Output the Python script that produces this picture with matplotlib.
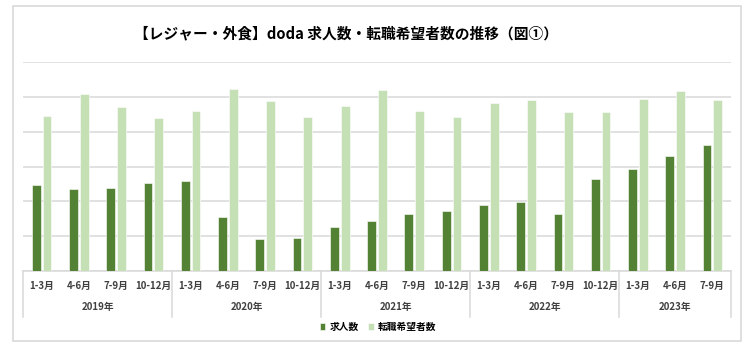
import matplotlib
matplotlib.use('Agg')
import matplotlib.pyplot as plt
import matplotlib.transforms as mtransforms
from matplotlib.patches import Rectangle
import numpy as np

plt.rcParams['font.family'] = ['Noto Sans CJK JP', 'DejaVu Sans']

# data (in gridline units)
years = ['2019年', '2020年', '2021年', '2022年', '2023年']
quarters_per_year = [4, 4, 4, 4, 3]
quarter_labels = ['1-3月', '4-6月', '7-9月', '10-12月']
job_offers = [2.46, 2.36, 2.39, 2.52,
              2.59, 1.56, 0.91, 0.94,
              1.26, 1.44, 1.63, 1.71,
              1.89, 1.97, 1.63, 2.65,
              2.92, 3.30, 3.61]
job_seekers = [4.45, 5.08, 4.71, 4.38,
               4.58, 5.23, 4.89, 4.42,
               4.73, 5.19, 4.59, 4.41,
               4.82, 4.91, 4.57, 4.56,
               4.93, 5.18, 4.91]
series_names = ['求人数', '転職希望者数']

dark = '#548235'
light = '#C5E0B4'
grid_c = '#D9D9D9'

fig = plt.figure(figsize=(7.53, 3.51), dpi=100)
W, H = 753, 351

# outer frame
fig.patches.append(Rectangle((13 / W, 1 - 341 / H), 728 / W, 335 / H,
                             transform=fig.transFigure, fill=False,
                             edgecolor=grid_c, linewidth=1.2))

ax = fig.add_axes([23 / W, 80 / H, 708 / W, 209 / H])

labels = [quarter_labels[i] for n in quarters_per_year for i in range(n)]
x = np.arange(len(labels))
bw = 0.235
ax.bar(x - 0.145, job_offers, bw, color=dark, edgecolor='white',
       linewidth=0.4, label=series_names[0], zorder=3)
ax.bar(x + 0.145, job_seekers, bw, color=light, edgecolor='white',
       linewidth=0.4, label=series_names[1], zorder=3)

ax.set_xlim(-0.5, len(labels) - 0.5)
ax.set_ylim(0, 6)
ax.set_yticks(np.arange(0, 7))
ax.yaxis.grid(True, color=grid_c, linewidth=1.1, zorder=0)
ax.tick_params(axis='y', left=False, labelleft=False)
for s in ['top', 'right', 'left']:
    ax.spines[s].set_visible(False)
ax.spines['bottom'].set_color(grid_c)
ax.spines['bottom'].set_linewidth(1.1)

ax.set_xticks(x)
ax.set_xticklabels(labels, fontsize=7, fontweight='bold', color='#404040')
ax.tick_params(axis='x', length=0, pad=7)

# multi-level category axis
trans = mtransforms.blended_transform_factory(ax.transData, ax.transAxes)
bounds = np.concatenate([[0], np.cumsum(quarters_per_year)]) - 0.5
for b in bounds:
    ax.plot([b, b], [0, -0.22], transform=trans, color=grid_c,
            linewidth=1.1, clip_on=False)
for i, yr in enumerate(years):
    ax.text((bounds[i] + bounds[i + 1]) / 2, -0.172, yr, transform=trans,
            ha='center', va='center', fontsize=7, fontweight='bold',
            color='#404040')

fig.text(346 / W, 1 - 33 / H, '【レジャー・外食】doda 求人数・転職希望者数の推移（図①）',
         ha='center', va='center', fontsize=10.6, fontweight='bold')

fig.legend(loc='center', bbox_to_anchor=(378 / W, 1 - 327 / H), ncol=2,
           frameon=False, handlelength=0.6, handleheight=0.6,
           handletextpad=0.4, columnspacing=1.0,
           prop={'size': 7, 'weight': 'bold'})

fig.savefig('out.png', dpi=100)
